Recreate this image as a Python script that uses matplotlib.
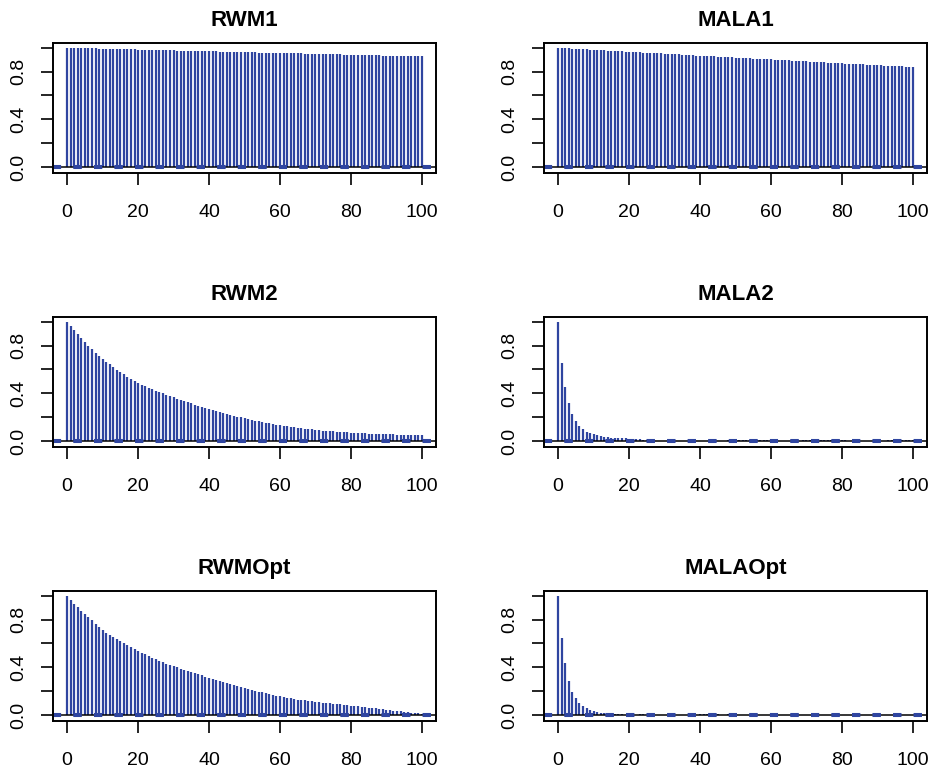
import matplotlib
matplotlib.use("Agg")
import matplotlib.pyplot as plt
import numpy as np

plt.rcParams['font.family'] = ['Liberation Sans', 'DejaVu Sans']

lags = list(range(0, 101))

titles = ["RWM1", "MALA1", "RWM2", "MALA2", "RWMOpt", "MALAOpt"]

acf_rwm1 = [
    1.000, 0.999, 0.998, 0.998, 0.997, 0.996, 0.995, 0.995, 0.994, 0.993,
    0.992, 0.992, 0.991, 0.990, 0.989, 0.989, 0.988, 0.987, 0.987, 0.986,
    0.985, 0.984, 0.984, 0.983, 0.982, 0.981, 0.981, 0.980, 0.979, 0.979,
    0.978, 0.977, 0.976, 0.976, 0.975, 0.974, 0.973, 0.973, 0.972, 0.971,
    0.971, 0.970, 0.969, 0.968, 0.968, 0.967, 0.966, 0.965, 0.965, 0.964,
    0.963, 0.963, 0.962, 0.961, 0.960, 0.960, 0.959, 0.958, 0.958, 0.957,
    0.956, 0.955, 0.955, 0.954, 0.953, 0.953, 0.952, 0.951, 0.950, 0.950,
    0.949, 0.948, 0.948, 0.947, 0.946, 0.945, 0.945, 0.944, 0.943, 0.943,
    0.942, 0.941, 0.940, 0.940, 0.939, 0.938, 0.938, 0.937, 0.936, 0.935,
    0.935, 0.934, 0.933, 0.933, 0.932, 0.931, 0.930, 0.930, 0.929, 0.928, 0.927]

acf_mala1 = [
    1.000, 0.998, 0.997, 0.995, 0.993, 0.992, 0.990, 0.988, 0.987, 0.985,
    0.983, 0.982, 0.980, 0.978, 0.977, 0.975, 0.973, 0.972, 0.970, 0.968,
    0.967, 0.965, 0.963, 0.962, 0.960, 0.958, 0.957, 0.955, 0.953, 0.952,
    0.950, 0.948, 0.947, 0.945, 0.944, 0.942, 0.940, 0.939, 0.937, 0.935,
    0.934, 0.932, 0.931, 0.929, 0.927, 0.926, 0.924, 0.922, 0.921, 0.919,
    0.918, 0.916, 0.914, 0.913, 0.911, 0.910, 0.908, 0.906, 0.905, 0.903,
    0.902, 0.900, 0.898, 0.897, 0.895, 0.894, 0.892, 0.890, 0.889, 0.887,
    0.886, 0.884, 0.883, 0.881, 0.879, 0.878, 0.876, 0.875, 0.873, 0.872,
    0.870, 0.868, 0.867, 0.865, 0.864, 0.862, 0.861, 0.859, 0.857, 0.856,
    0.854, 0.853, 0.851, 0.850, 0.848, 0.846, 0.845, 0.843, 0.842, 0.840, 0.838]

acf_rwm2 = [
    1.000, 0.967, 0.930, 0.895, 0.861, 0.829, 0.799, 0.769, 0.742, 0.716,
    0.690, 0.666, 0.643, 0.620, 0.599, 0.578, 0.558, 0.539, 0.521, 0.503,
    0.486, 0.473, 0.460, 0.447, 0.435, 0.423, 0.411, 0.399, 0.388, 0.377,
    0.367, 0.356, 0.346, 0.336, 0.326, 0.316, 0.306, 0.297, 0.288, 0.279,
    0.270, 0.261, 0.253, 0.244, 0.236, 0.228, 0.220, 0.212, 0.205, 0.198,
    0.191, 0.185, 0.178, 0.172, 0.166, 0.160, 0.154, 0.149, 0.143, 0.138,
    0.133, 0.128, 0.124, 0.119, 0.115, 0.111, 0.107, 0.104, 0.100, 0.097,
    0.094, 0.091, 0.088, 0.086, 0.083, 0.081, 0.079, 0.077, 0.075, 0.073,
    0.071, 0.069, 0.068, 0.066, 0.065, 0.063, 0.062, 0.061, 0.060, 0.058,
    0.057, 0.056, 0.055, 0.054, 0.053, 0.052, 0.051, 0.050, 0.049, 0.048, 0.047]

acf_mala2 = [
    1.000, 0.656, 0.450, 0.317, 0.228, 0.167, 0.122, 0.097, 0.078, 0.067,
    0.056, 0.050, 0.042, 0.036, 0.031, 0.028, 0.027, 0.025, 0.024, 0.022,
    0.021, 0.020, 0.018, 0.015, 0.012, 0.010, 0.008, 0.006, 0.004, 0.002,
    0.000, 0.000, -0.001, -0.002, 0.000, 0.001, 0.000, -0.001, 0.000, 0.001,
    0.002, 0.001, 0.000, 0.000, 0.001, 0.002, 0.003, 0.004, 0.005, 0.006,
    0.007, 0.008, 0.008, 0.009, 0.010, 0.011, 0.010, 0.009, 0.007, 0.005,
    0.003, 0.002, 0.000, -0.001, 0.000, 0.001, 0.002, 0.003, 0.004, 0.005,
    0.006, 0.007, 0.008, 0.009, 0.010, 0.011, 0.012, 0.012, 0.011, 0.010,
    0.008, 0.006, 0.004, 0.002, 0.000, -0.001, -0.002, -0.001, 0.000, 0.001,
    0.002, 0.003, 0.004, 0.005, 0.006, 0.007, 0.008, 0.009, 0.010, 0.010, 0.011]

acf_rwmopt = [
    1.000, 0.967, 0.934, 0.904, 0.875, 0.847, 0.820, 0.793, 0.766, 0.740,
    0.714, 0.692, 0.672, 0.653, 0.634, 0.617, 0.601, 0.586, 0.571, 0.554,
    0.537, 0.523, 0.509, 0.495, 0.482, 0.469, 0.456, 0.444, 0.432, 0.421,
    0.410, 0.400, 0.390, 0.380, 0.370, 0.361, 0.352, 0.342, 0.332, 0.323,
    0.313, 0.304, 0.295, 0.286, 0.277, 0.268, 0.259, 0.250, 0.241, 0.233,
    0.225, 0.217, 0.210, 0.203, 0.196, 0.189, 0.182, 0.175, 0.168, 0.162,
    0.156, 0.150, 0.145, 0.140, 0.135, 0.130, 0.126, 0.122, 0.118, 0.114,
    0.110, 0.107, 0.104, 0.101, 0.098, 0.095, 0.092, 0.089, 0.086, 0.082,
    0.078, 0.075, 0.072, 0.068, 0.065, 0.061, 0.058, 0.055, 0.051, 0.048,
    0.044, 0.041, 0.037, 0.034, 0.030, 0.027, 0.023, 0.020, 0.016, 0.013, 0.010]

acf_malaopt = [
    1.000, 0.647, 0.434, 0.289, 0.196, 0.143, 0.104, 0.076, 0.056, 0.039,
    0.031, 0.022, 0.017, 0.014, 0.011, 0.009, 0.007, 0.006, 0.005, 0.004,
    0.003, 0.003, 0.004, 0.005, 0.006, 0.004, 0.002, 0.000, -0.001, -0.002,
    -0.003, -0.003, -0.002, -0.001, 0.000, 0.001, 0.002, 0.003, 0.004, 0.004,
    0.005, 0.005, 0.006, 0.006, 0.005, 0.005, 0.004, 0.004, 0.005, 0.006,
    0.005, 0.003, 0.001, 0.000, -0.001, -0.002, -0.002, -0.001, 0.000, 0.001,
    0.002, 0.002, 0.001, 0.000, -0.001, -0.001, 0.000, 0.001, 0.002, 0.003,
    0.003, 0.002, 0.001, 0.000, -0.001, -0.002, -0.002, -0.001, 0.000, 0.001,
    0.002, 0.003, 0.003, 0.002, 0.001, 0.000, -0.001, -0.001, 0.000, 0.001,
    0.002, 0.002, 0.001, 0.000, -0.001, -0.001, 0.000, 0.001, 0.002, 0.002, 0.001]

series = [acf_rwm1, acf_mala1, acf_rwm2, acf_mala2, acf_rwmopt, acf_malaopt]
ci_level = 0.003

xticks = [0, 20, 40, 60, 80, 100]
yticks = [0.0, 0.2, 0.4, 0.6, 0.8, 1.0]
ytick_labels = ["0.0", "", "0.4", "", "0.8", ""]

W, H = 934, 774
fig = plt.figure(figsize=(W / 100, H / 100), dpi=100)

bar_color = "#2F45A0"
ax_w, ax_h = 383, 130
lefts = [53, 544]
tops = [43, 317, 591]

for i, (title, vals) in enumerate(zip(titles, series)):
    r, c = divmod(i, 2)
    l = lefts[c]
    t = tops[r]
    ax = fig.add_axes([l / W, 1 - (t + ax_h) / H, ax_w / W, ax_h / H])
    ax.vlines(lags, 0, vals, color=bar_color, lw=1.6)
    ax.axhline(0, color="black", lw=1.1)
    for s in (ci_level, -ci_level):
        ax.axhline(s, color=bar_color, lw=2.9, linestyle=(0, (2.0, 3.1)))
    ax.set_xlim(-4, 104)
    ax.set_ylim(-0.05, 1.04)
    ax.set_xticks(xticks)
    ax.set_xticklabels([str(v) for v in xticks])
    ax.set_yticks(yticks)
    ax.set_yticklabels(ytick_labels, rotation=90, va="center")
    ax.tick_params(axis="both", direction="out", length=8.5, width=1.2,
                   labelsize=14)
    ax.tick_params(axis="x", pad=13.5)
    ax.tick_params(axis="y", pad=10)
    for sp in ax.spines.values():
        sp.set_linewidth(1.4)
    ax.set_title(title, fontsize=16, fontweight="bold", pad=12)

fig.savefig("out.png", dpi=100)
